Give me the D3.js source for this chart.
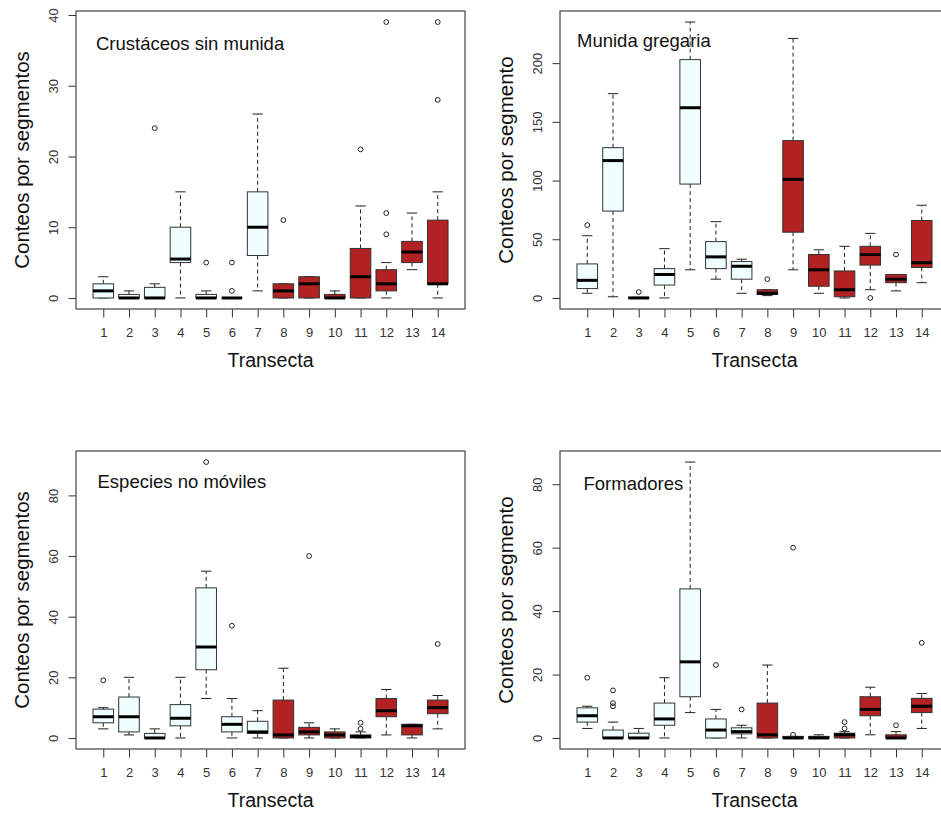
<!DOCTYPE html>
<html>
<head>
<meta charset="utf-8">
<script src="https://cdn.jsdelivr.net/npm/d3@7"></script>
<style>
  html, body { margin: 0; padding: 0; background: #fff; overflow: hidden; }
  svg { display: block; font-family: "Liberation Sans", Arial, sans-serif; }
</style>
</head>
<body>
<div id="chart"></div>
<script>
// transectas and the zone each one belongs to
const transectas = [1, 2, 3, 4, 5, 6, 7, 8, 9, 10, 11, 12, 13, 14];
const zona = ['A', 'A', 'A', 'A', 'A', 'A', 'A', 'B', 'B', 'B', 'B', 'B', 'B', 'B'];

// box stats per transecta: [whisker low, q1, median, q3, whisker high]
const crustStats = [
  [0, 0, 1, 2, 3], [0, 0, 0, 0.5, 1], [0, 0, 0, 1.5, 2], [0, 5, 5.5, 10, 15],
  [0, 0, 0, 0.5, 1], [0, 0, 0, 0, 0], [1, 6, 10, 15, 26], [0, 0, 1, 2, 2],
  [0, 0, 2, 3, 3], [0, 0, 0, 0.5, 1], [0, 0, 3, 7, 13], [0, 1, 2, 4, 5],
  [4, 5, 6.5, 8, 12], [0, 2, 2, 11, 15]
];
const crustOut = [[], [], [24], [], [5], [1, 5], [], [11], [], [], [21], [9, 12, 39], [], [28, 39]];

const munidaStats = [
  [4, 8, 15, 29, 53], [1, 74, 117, 128, 174], [0, 0, 0, 0.5, 0.5], [0, 11, 20, 25, 42],
  [24, 97, 162, 203, 235], [16, 25, 35, 48, 65], [4, 16, 27, 31, 33], [2, 3, 4, 7, 7],
  [24, 56, 101, 134, 221], [4, 10, 24, 37, 41], [0, 1, 7, 23, 44], [7, 28, 37, 44, 55],
  [6, 13, 16, 20, 20], [13, 26, 30, 66, 79]
];
const munidaOut = [[62], [], [5], [], [], [], [], [16], [], [], [], [0], [37], []];

const nomovStats = [
  [3, 5, 7, 9.5, 10], [1, 2, 7, 13.5, 20], [0, 0, 0, 1.5, 3], [0, 4, 6.5, 11, 20],
  [13, 22.5, 30, 49.5, 55], [0, 2, 4.5, 7, 13], [0, 1.5, 2, 5.5, 9], [0, 0, 1, 12.5, 23],
  [0, 1, 2, 3.5, 5], [0, 0, 1, 2, 3], [0, 0, 0.5, 1, 2], [1, 7, 9, 13, 16],
  [0, 1, 4, 4.5, 4.5], [3, 8, 10, 12.5, 14]
];
const nomovOut = [[19], [], [], [], [91], [37], [], [], [60], [], [3, 5], [], [], [31]];

const formStats = [
  [3, 5, 7, 9.5, 10], [0, 0, 0, 2.5, 5], [0, 0, 0, 1.5, 3], [0, 4, 6, 11, 19],
  [8, 13, 24, 47, 87], [0, 0, 2.5, 6, 9], [0, 1.3, 2, 3.2, 4], [0, 0, 1, 11, 23],
  [0, 0, 0, 0.5, 0.5], [0, 0, 0, 0.5, 1], [0, 0, 1, 1.5, 2], [1, 7, 9, 13, 16],
  [0, 0, 0, 1, 2], [3, 8, 10, 12.5, 14]
];
const formOut = [[19], [10, 11, 15], [], [], [], [23], [9], [], [1, 60], [], [3, 5], [], [4], [30]];

// tick labels
const crustTicks = [0, 10, 20, 30, 40];
const munidaTicks = [0, 50, 100, 150, 200];
const nomovTicks = [0, 20, 40, 60, 80];
const formTicks = [0, 20, 40, 60, 80];

const panels = [
  { title: 'Crustáceos sin munida', ylab: 'Conteos por segmentos', stats: crustStats, out: crustOut, ticks: crustTicks,
    left: 76, top: 11, tx: 96, ty: 49.5 },
  { title: 'Munida gregaria', ylab: 'Conteos por segmento', stats: munidaStats, out: munidaOut, ticks: munidaTicks,
    left: 560, top: 11, tx: 577, ty: 47 },
  { title: 'Especies no móviles', ylab: 'Conteos por segmentos', stats: nomovStats, out: nomovOut, ticks: nomovTicks,
    left: 76, top: 451, tx: 97.5, ty: 487.5 },
  { title: 'Formadores', ylab: 'Conteos por segmento', stats: formStats, out: formOut, ticks: formTicks,
    left: 560, top: 451, tx: 583.5, ty: 489.5 }
];

const W = 941, H = 814;
const pw = 389, ph = 298;
const fills = { A: '#F0FFFF', B: '#B22222' };

const svg = d3.select('#chart').append('svg').attr('width', W).attr('height', H);
svg.append('rect').attr('width', W).attr('height', H).attr('fill', '#fff');

panels.forEach(p => {
  const g = svg.append('g').attr('transform', `translate(${p.left},${p.top})`);

  // R style limits: 4% padding on each side
  const x = d3.scaleLinear().domain([0.5 - 0.56, 14.5 + 0.56]).range([0, pw]);
  const allVals = p.stats.flat().concat(p.out.flat());
  const [lo, hi] = d3.extent(allVals);
  const pad = (hi - lo) * 0.04;
  const y = d3.scaleLinear().domain([lo - pad, hi + pad]).range([ph, 0]);

  const bw = (x(2) - x(1)) * 0.8;

  // panel label
  svg.append('text').attr('x', p.tx).attr('y', p.ty)
    .attr('font-size', '18.5px').attr('fill', '#111').text(p.title);

  // y axis
  const yAxis = d3.axisLeft(y).tickValues(p.ticks).tickSize(7.5).tickFormat(d3.format('d'));
  const ya = g.append('g').call(yAxis);
  ya.select('.domain').remove();
  ya.selectAll('.tick line').attr('stroke', '#333');
  ya.selectAll('.tick text')
    .attr('x', 0).attr('dy', 0)
    .attr('transform', 'translate(-18.5,0) rotate(-90)')
    .attr('text-anchor', 'middle')
    .attr('font-size', '13px').attr('fill', '#333')
    .attr('font-family', '"Liberation Sans", Arial, sans-serif');

  // x axis
  const xAxis = d3.axisBottom(x).tickValues(transectas).tickSize(8.5).tickFormat(d3.format('d'));
  const xa = g.append('g').attr('transform', `translate(0,${ph})`).call(xAxis);
  xa.select('.domain').remove();
  xa.selectAll('.tick line').attr('stroke', '#333');
  xa.selectAll('.tick text')
    .attr('y', 28).attr('dy', 0)
    .attr('font-size', '13px').attr('fill', '#333')
    .attr('font-family', '"Liberation Sans", Arial, sans-serif');

  // axis titles
  g.append('text').attr('x', pw / 2).attr('y', ph + 58)
    .attr('text-anchor', 'middle').attr('font-size', '19.5px').attr('fill', '#111')
    .text('Transecta');
  g.append('text')
    .attr('transform', `translate(-47.5,${ph / 2}) rotate(-90)`)
    .attr('text-anchor', 'middle').attr('font-size', '20.5px').attr('fill', '#111')
    .text(p.ylab);

  // boxes
  p.stats.forEach((s, i) => {
    const cx = x(transectas[i]);
    const [wl, q1, md, q3, wh] = s;
    const bg = g.append('g');

    // whiskers
    bg.append('line').attr('x1', cx).attr('x2', cx).attr('y1', y(q3)).attr('y2', y(wh))
      .attr('stroke', '#222').attr('stroke-dasharray', '4,3');
    bg.append('line').attr('x1', cx).attr('x2', cx).attr('y1', y(q1)).attr('y2', y(wl))
      .attr('stroke', '#222').attr('stroke-dasharray', '4,3');
    // staples
    [wl, wh].forEach(v => {
      bg.append('line').attr('x1', cx - bw / 4).attr('x2', cx + bw / 4)
        .attr('y1', y(v)).attr('y2', y(v)).attr('stroke', '#222');
    });
    // box
    bg.append('rect')
      .attr('x', cx - bw / 2).attr('width', bw)
      .attr('y', y(q3)).attr('height', Math.max(0, y(q1) - y(q3)))
      .attr('fill', fills[zona[i]]).attr('stroke', '#333').attr('stroke-width', 1);
    // median
    bg.append('line').attr('x1', cx - bw / 2).attr('x2', cx + bw / 2)
      .attr('y1', y(md)).attr('y2', y(md)).attr('stroke', '#000').attr('stroke-width', 3);
    // outliers
    p.out[i].forEach(v => {
      bg.append('circle').attr('cx', cx).attr('cy', y(v)).attr('r', 2.4)
        .attr('fill', 'none').attr('stroke', '#222').attr('stroke-width', 1);
    });
  });

  // frame
  g.append('rect').attr('x', 0).attr('y', 0).attr('width', pw).attr('height', ph)
    .attr('fill', 'none').attr('stroke', '#444').attr('stroke-width', 1.2);
});
</script>
</body>
</html>
